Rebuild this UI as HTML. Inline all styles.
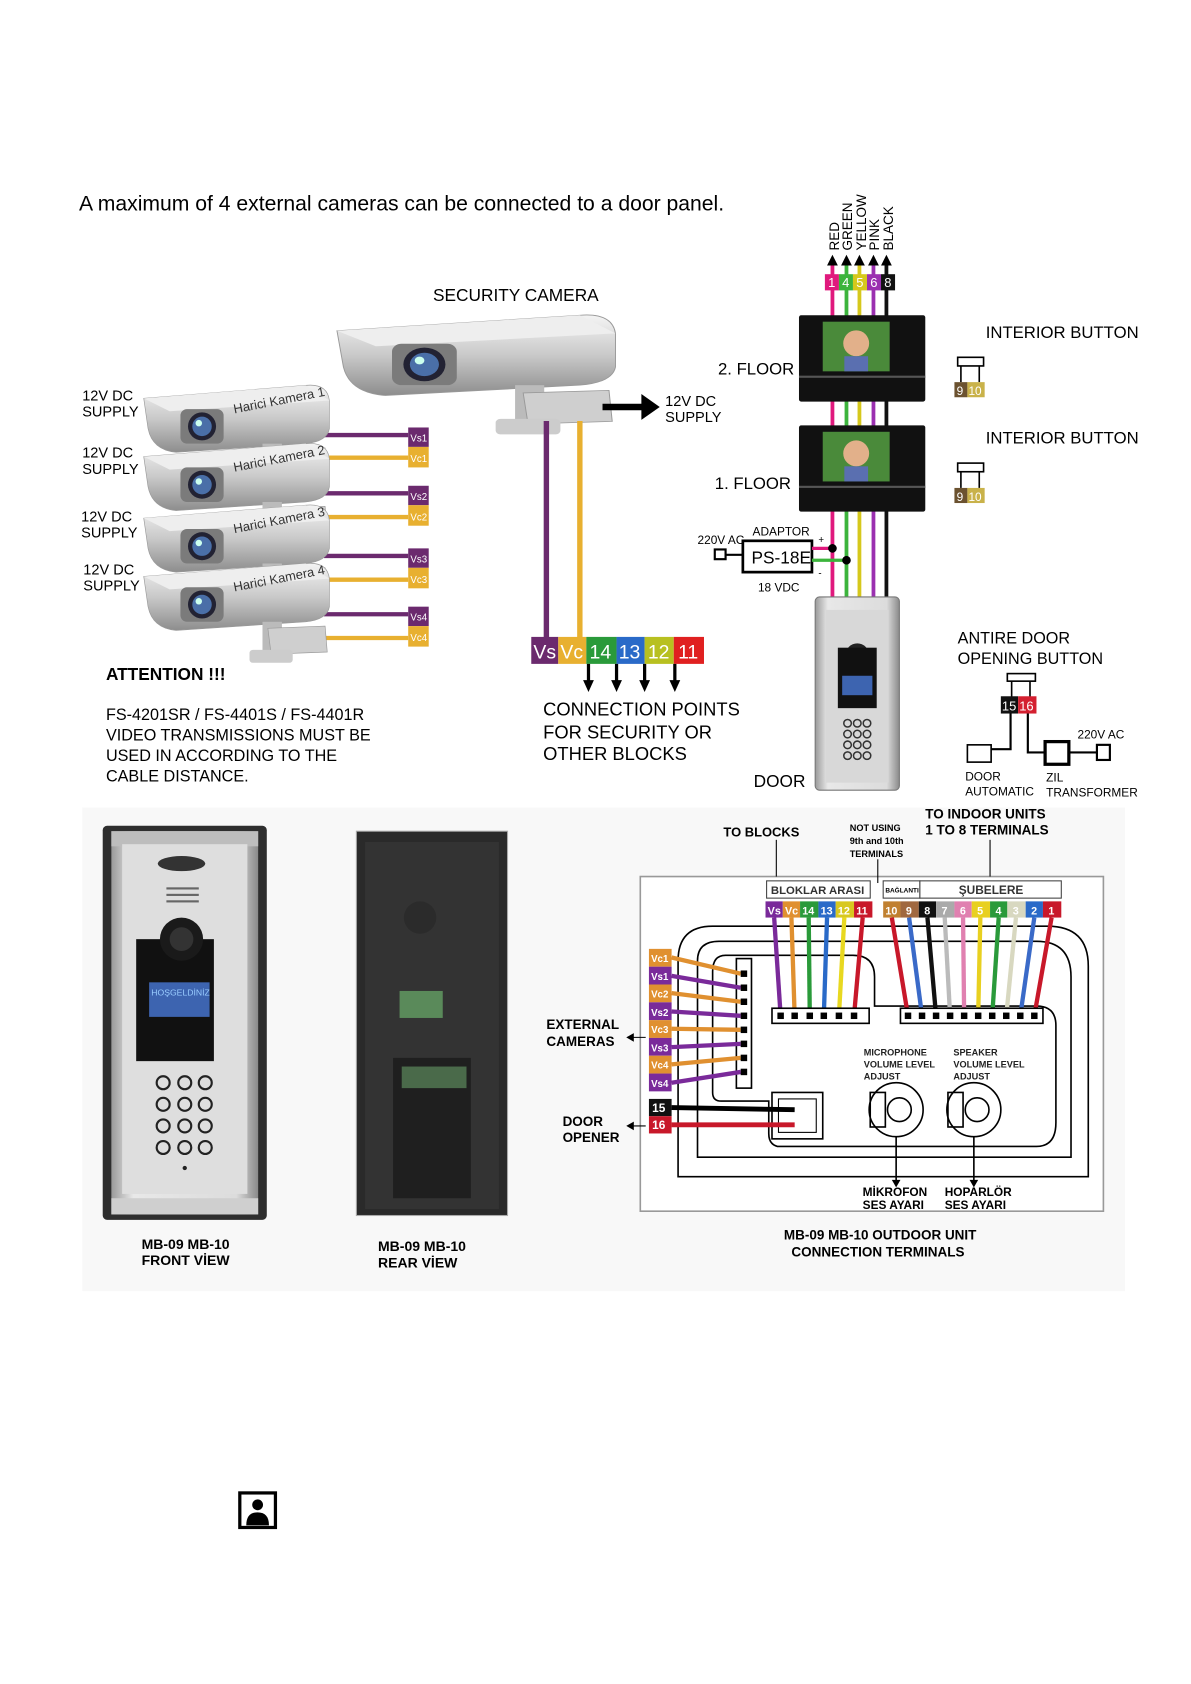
<!DOCTYPE html>
<html><head><meta charset="utf-8"><style>
html,body{margin:0;padding:0;background:#fff}
svg{display:block}
text{font-family:"Liberation Sans",sans-serif}
</style></head><body>
<svg width="1191" height="1684" viewBox="0 0 1103 1560" xmlns="http://www.w3.org/2000/svg">
<defs>
<linearGradient id="gr" x1="0" y1="0" x2="0" y2="1"><stop offset="0" stop-color="#f4f4f4"/><stop offset="0.5" stop-color="#c9c9c9"/><stop offset="1" stop-color="#8d8d8d"/></linearGradient>
<linearGradient id="al" x1="0" y1="0" x2="1" y2="0"><stop offset="0" stop-color="#9a9a9a"/><stop offset="0.15" stop-color="#e8e8e8"/><stop offset="0.85" stop-color="#dcdcdc"/><stop offset="1" stop-color="#8a8a8a"/></linearGradient>
<g id="cam">
<path d="M0,12 L150,0 Q170,-2 172,14 L172,40 Q170,52 150,54 L30,62 Q8,60 4,40 Z" fill="url(#gr)" stroke="#999" stroke-width="0.6"/>
<path d="M0,12 L150,0 L172,14 L24,24 Z" fill="#eee"/>
<rect x="34" y="22" width="40" height="32" rx="6" fill="#7b7b7b"/>
<circle cx="54" cy="38" r="13" fill="#223" /><circle cx="54" cy="38" r="9" fill="#4a6fa8"/><circle cx="51" cy="35" r="3" fill="#cfe"/>
<rect x="110" y="54" width="18" height="30" fill="#bbb"/>
<path d="M115,60 L168,58 L170,82 L118,84 Z" fill="#cfcfcf" stroke="#999" stroke-width="0.6"/>
<rect x="98" y="80" width="40" height="12" rx="3" fill="#ccc"/>
</g>
</defs>

<text x="73" y="195" font-size="19.6">A maximum of 4 external cameras can be connected to a door panel.</text>

<g font-size="12.5" fill="#000">
<text transform="translate(777,232) rotate(-90)">RED</text>
<text transform="translate(789,232) rotate(-90)">GREEN</text>
<text transform="translate(802,232) rotate(-90)">YELLOW</text>
<text transform="translate(814,232) rotate(-90)">PINK</text>
<text transform="translate(827,232) rotate(-90)">BLACK</text>
</g>
<g stroke-width="3.5">
<line x1="771" y1="244" x2="771" y2="555" stroke="#e0197d"/>
<line x1="784" y1="244" x2="784" y2="555" stroke="#3cb43c"/>
<line x1="796" y1="244" x2="796" y2="555" stroke="#d6c81c"/>
<line x1="809" y1="244" x2="809" y2="555" stroke="#9b30b0"/>
<line x1="821" y1="244" x2="821" y2="555" stroke="#111"/>
</g>
<g fill="#000">
<path d="M766,246 L771,236 L776,246Z"/><path d="M779,246 L784,236 L789,246Z"/><path d="M791,246 L796,236 L801,246Z"/><path d="M804,246 L809,236 L814,246Z"/><path d="M816,246 L821,236 L826,246Z"/>
</g>
<g font-size="12" fill="#fff">
<rect x="764" y="254" width="13" height="15" fill="#e0197d"/><text x="767" y="266">1</text>
<rect x="777" y="254" width="13" height="15" fill="#3cb43c"/><text x="780" y="266">4</text>
<rect x="790" y="254" width="13" height="15" fill="#d6c81c"/><text x="793" y="266">5</text>
<rect x="803" y="254" width="13" height="15" fill="#9b30b0"/><text x="806" y="266">6</text>
<rect x="816" y="254" width="13" height="15" fill="#111"/><text x="819" y="266">8</text>
</g>

<g>
<rect x="740" y="292" width="117" height="80" fill="#111" rx="2"/>
<rect x="762" y="298" width="62" height="46" fill="#4a8a3a"/><circle cx="793" cy="318" r="12" fill="#e2b08a"/><rect x="782" y="330" width="22" height="14" fill="#5a6fb0"/>
<rect x="740" y="348" width="117" height="2" fill="#555"/>
<rect x="740" y="394" width="117" height="80" fill="#111" rx="2"/>
<rect x="762" y="400" width="62" height="46" fill="#4a8a3a"/><circle cx="793" cy="420" r="12" fill="#e2b08a"/><rect x="782" y="432" width="22" height="14" fill="#5a6fb0"/>
<rect x="740" y="450" width="117" height="2" fill="#555"/>
</g>
<text x="665" y="347" font-size="15.5">2. FLOOR</text>
<text x="662" y="453" font-size="15.5">1. FLOOR</text>
<text x="913" y="313" font-size="15.5">INTERIOR BUTTON</text>
<text x="913" y="411" font-size="15.5">INTERIOR BUTTON</text>
<g>
<rect x="887" y="331" width="24" height="8" fill="#fff" stroke="#000" stroke-width="1.5"/><line x1="890" y1="339" x2="890" y2="354" stroke="#000" stroke-width="1.5"/><line x1="907" y1="339" x2="907" y2="354" stroke="#000" stroke-width="1.5"/>
<rect x="884" y="354" width="12" height="14" fill="#6b5230"/><rect x="896" y="354" width="16" height="14" fill="#c9b24a"/>
<text x="886" y="366" font-size="11" fill="#fff">9</text><text x="897" y="366" font-size="11" fill="#fff">10</text>
<rect x="887" y="429" width="24" height="8" fill="#fff" stroke="#000" stroke-width="1.5"/><line x1="890" y1="437" x2="890" y2="452" stroke="#000" stroke-width="1.5"/><line x1="907" y1="437" x2="907" y2="452" stroke="#000" stroke-width="1.5"/>
<rect x="884" y="452" width="12" height="14" fill="#6b5230"/><rect x="896" y="452" width="16" height="14" fill="#c9b24a"/>
<text x="886" y="464" font-size="11" fill="#fff">9</text><text x="897" y="464" font-size="11" fill="#fff">10</text>
</g>

<text x="646" y="504" font-size="11">220V AC</text>
<text x="697" y="496" font-size="11">ADAPTOR</text>
<rect x="688" y="501" width="64" height="29" fill="#fff" stroke="#000" stroke-width="2.5"/>
<text x="696" y="522" font-size="16">PS-18E</text>
<text x="702" y="548" font-size="11">18 VDC</text>
<rect x="662" y="509" width="10" height="9" fill="none" stroke="#000" stroke-width="2"/><line x1="672" y1="514" x2="688" y2="514" stroke="#000" stroke-width="2"/>
<line x1="752" y1="508" x2="771" y2="508" stroke="#e0197d" stroke-width="3"/><line x1="752" y1="519" x2="784" y2="519" stroke="#3cb43c" stroke-width="3"/>
<circle cx="771" cy="508" r="4" fill="#000"/><circle cx="784" cy="519" r="4" fill="#000"/>
<text x="758" y="503" font-size="9">+</text><text x="758" y="534" font-size="9">-</text>

<rect x="755" y="553" width="78" height="179" rx="4" fill="url(#al)" stroke="#777"/>
<rect x="765" y="565" width="58" height="160" fill="#d8d8d8"/>
<circle cx="794" cy="607" r="11" fill="#222"/>
<rect x="776" y="600" width="36" height="56" fill="#111"/>
<rect x="780" y="626" width="28" height="18" fill="#3d64b0"/>
<g fill="none" stroke="#333" stroke-width="1.4">
<circle cx="785" cy="670" r="3.5"/><circle cx="794" cy="670" r="3.5"/><circle cx="803" cy="670" r="3.5"/>
<circle cx="785" cy="680" r="3.5"/><circle cx="794" cy="680" r="3.5"/><circle cx="803" cy="680" r="3.5"/>
<circle cx="785" cy="690" r="3.5"/><circle cx="794" cy="690" r="3.5"/><circle cx="803" cy="690" r="3.5"/>
<circle cx="785" cy="700" r="3.5"/><circle cx="794" cy="700" r="3.5"/><circle cx="803" cy="700" r="3.5"/>
</g>
<text x="698" y="729" font-size="16">DOOR</text>

<text x="887" y="596" font-size="15">ANTIRE DOOR</text>
<text x="887" y="615" font-size="15">OPENING BUTTON</text>
<rect x="933" y="624" width="26" height="7" fill="#fff" stroke="#000" stroke-width="1.5"/>
<line x1="937" y1="631" x2="937" y2="646" stroke="#000" stroke-width="1.5"/><line x1="954" y1="631" x2="954" y2="646" stroke="#000" stroke-width="1.5"/>
<rect x="927" y="645" width="16" height="16" fill="#111"/><rect x="943" y="645" width="17" height="16" fill="#d42030"/>
<text x="928" y="658" font-size="12" fill="#fff">15</text><text x="944" y="658" font-size="12" fill="#fff">16</text>
<path d="M936,661 L936,694 L918,694" fill="none" stroke="#000" stroke-width="2"/>
<path d="M952,661 L952,697 L967,697" fill="none" stroke="#000" stroke-width="2"/>
<rect x="896" y="690" width="22" height="16" fill="#fff" stroke="#000" stroke-width="1.5"/>
<rect x="968" y="687" width="22" height="21" fill="#fff" stroke="#000" stroke-width="3"/>
<line x1="990" y1="697" x2="1016" y2="697" stroke="#000" stroke-width="2"/>
<rect x="1016" y="690" width="12" height="14" fill="none" stroke="#000" stroke-width="2"/>
<text x="998" y="684" font-size="11">220V AC</text>
<text x="894" y="723" font-size="11">DOOR</text><text x="894" y="737" font-size="11">AUTOMATIC</text>
<text x="969" y="724" font-size="11">ZIL</text><text x="969" y="738" font-size="11">TRANSFORMER</text>

<text x="401" y="279" font-size="16">SECURITY CAMERA</text>
<use href="#cam" transform="translate(312,292) scale(1.5,1.2)"/>
<line x1="506" y1="390" x2="506" y2="592" stroke="#6b2a6e" stroke-width="5"/>
<line x1="537" y1="390" x2="537" y2="592" stroke="#e8b030" stroke-width="5"/>
<line x1="558" y1="377" x2="596" y2="377" stroke="#000" stroke-width="6"/><path d="M594,365 L611,377 L594,389Z" fill="#000"/>
<text x="616" y="376" font-size="13.5">12V DC</text><text x="616" y="391" font-size="13.5">SUPPLY</text>

<g stroke-width="4">
<line x1="300" y1="403" x2="378" y2="403" stroke="#6b2a6e"/><line x1="300" y1="424" x2="378" y2="424" stroke="#e8b030"/>
<line x1="300" y1="457" x2="378" y2="457" stroke="#6b2a6e"/><line x1="300" y1="479" x2="378" y2="479" stroke="#e8b030"/>
<line x1="300" y1="515" x2="378" y2="515" stroke="#6b2a6e"/><line x1="300" y1="537" x2="378" y2="537" stroke="#e8b030"/>
<line x1="300" y1="569" x2="378" y2="569" stroke="#6b2a6e"/><line x1="300" y1="591" x2="378" y2="591" stroke="#e8b030"/>
</g>
<use href="#cam" transform="translate(133,357)"/>
<use href="#cam" transform="translate(133,411)"/>
<use href="#cam" transform="translate(133,468)"/>
<use href="#cam" transform="translate(133,522)"/>
<g font-size="12" fill="#333">
<text transform="translate(217,383) rotate(-11)">Harici Kamera 1</text>
<text transform="translate(217,437) rotate(-11)">Harici Kamera 2</text>
<text transform="translate(217,494) rotate(-11)">Harici Kamera 3</text>
<text transform="translate(217,548) rotate(-11)">Harici Kamera 4</text>
</g>
<g font-size="13.5">
<text x="76" y="371">12V DC</text><text x="76" y="386">SUPPLY</text>
<text x="76" y="424">12V DC</text><text x="76" y="439">SUPPLY</text>
<text x="75" y="483">12V DC</text><text x="75" y="498">SUPPLY</text>
<text x="77" y="532">12V DC</text><text x="77" y="547">SUPPLY</text>
</g>
<g font-size="9" fill="#fff">
<rect x="378" y="396" width="19" height="18" fill="#6b2a6e"/><text x="380" y="409">Vs1</text>
<rect x="378" y="414" width="19" height="19" fill="#e8b030"/><text x="380" y="428">Vc1</text>
<rect x="378" y="450" width="19" height="18" fill="#6b2a6e"/><text x="380" y="463">Vs2</text>
<rect x="378" y="468" width="19" height="19" fill="#e8b030"/><text x="380" y="482">Vc2</text>
<rect x="378" y="508" width="19" height="18" fill="#6b2a6e"/><text x="380" y="521">Vs3</text>
<rect x="378" y="526" width="19" height="19" fill="#e8b030"/><text x="380" y="540">Vc3</text>
<rect x="378" y="562" width="19" height="18" fill="#6b2a6e"/><text x="380" y="575">Vs4</text>
<rect x="378" y="580" width="19" height="19" fill="#e8b030"/><text x="380" y="594">Vc4</text>
</g>

<g font-size="18" fill="#fff">
<rect x="492" y="590" width="25" height="25" fill="#6b2a6e"/><text x="494" y="610">Vs</text>
<rect x="517" y="590" width="26" height="25" fill="#e8b030"/><text x="519" y="610">Vc</text>
<rect x="543" y="590" width="28" height="25" fill="#2a9a3a"/><text x="546" y="610">14</text>
<rect x="571" y="590" width="26" height="25" fill="#2a6ac8"/><text x="573" y="610">13</text>
<rect x="597" y="590" width="27" height="25" fill="#b8c020"/><text x="600" y="610">12</text>
<rect x="624" y="590" width="28" height="25" fill="#e02020"/><text x="628" y="610">11</text>
</g>
<g stroke="#000" stroke-width="3"><line x1="545" y1="615" x2="545" y2="632"/><line x1="571" y1="615" x2="571" y2="632"/><line x1="597" y1="615" x2="597" y2="632"/><line x1="625" y1="615" x2="625" y2="632"/></g>
<g fill="#000"><path d="M540,630 L545,641 L550,630Z"/><path d="M566,630 L571,641 L576,630Z"/><path d="M592,630 L597,641 L602,630Z"/><path d="M620,630 L625,641 L630,630Z"/></g>
<g font-size="17"><text x="503" y="663">CONNECTION POINTS</text><text x="503" y="684">FOR SECURITY OR</text><text x="503" y="704">OTHER BLOCKS</text></g>
<text x="98" y="630" font-size="16" font-weight="bold">ATTENTION !!!</text>
<g font-size="15"><text x="98" y="667">FS-4201SR / FS-4401S / FS-4401R</text><text x="98" y="686">VIDEO TRANSMISSIONS MUST BE</text><text x="98" y="705">USED IN ACCORDING TO THE</text><text x="98" y="724">CABLE DISTANCE.</text></g>

<rect x="76" y="748" width="966" height="448" fill="#f8f8f8"/>
<rect x="95" y="765" width="152" height="365" rx="4" fill="#2e2e2e"/>
<rect x="103" y="770" width="136" height="355" fill="url(#al)"/>
<rect x="103" y="770" width="136" height="14" fill="#bdbdbd"/>
<rect x="103" y="1110" width="136" height="15" fill="#cfcfcf"/>
<rect x="113" y="782" width="116" height="324" fill="#dedede"/>
<ellipse cx="168" cy="800" rx="22" ry="7" fill="#333"/>
<g fill="#666"><rect x="154" y="822" width="30" height="2"/><rect x="154" y="828" width="30" height="2"/><rect x="154" y="834" width="30" height="2"/></g>
<rect x="126" y="870" width="72" height="113" fill="#111"/>
<circle cx="168" cy="870" r="20" fill="#1a1a1a"/><circle cx="168" cy="870" r="11" fill="#333"/>
<rect x="138" y="910" width="56" height="32" fill="#3d64b0"/>
<text x="140" y="922" font-size="8" fill="#9cf">HOŞGELDİNİZ</text>
<g fill="none" stroke="#222" stroke-width="2">
<circle cx="151" cy="1003" r="6"/><circle cx="171" cy="1003" r="6"/><circle cx="190" cy="1003" r="6"/>
<circle cx="151" cy="1023" r="6"/><circle cx="171" cy="1023" r="6"/><circle cx="190" cy="1023" r="6"/>
<circle cx="151" cy="1043" r="6"/><circle cx="171" cy="1043" r="6"/><circle cx="190" cy="1043" r="6"/>
<circle cx="151" cy="1063" r="6"/><circle cx="171" cy="1063" r="6"/><circle cx="190" cy="1063" r="6"/>
</g>
<circle cx="171" cy="1082" r="2" fill="#222"/>
<rect x="330" y="770" width="140" height="356" fill="#2a2a2a" stroke="#aaa"/>
<rect x="338" y="780" width="124" height="340" fill="#333"/>
<circle cx="389" cy="850" r="15" fill="#2b2b2b"/>
<rect x="370" y="918" width="40" height="25" fill="#5a8a5a"/>
<rect x="364" y="980" width="72" height="130" fill="#1f1f1f"/>
<rect x="372" y="988" width="60" height="20" fill="#4a6a4a"/>
<g font-size="13" font-weight="bold">
<text x="131" y="1157">MB-09 MB-10</text><text x="131" y="1172">FRONT VİEW</text>
<text x="350" y="1159">MB-09 MB-10</text><text x="350" y="1174">REAR VİEW</text>
</g>

<rect x="593" y="812" width="429" height="310" fill="#fff" stroke="#999" stroke-width="1.5"/>
<g fill="none" stroke="#000" stroke-width="1.5">
<path d="M628,1090 L628,890 Q628,858 660,858 L970,858 Q1008,858 1008,895 L1008,1090 Z"/>
<path d="M646,1072 L646,890 Q646,872 666,872 L960,872 Q992,872 992,905 L992,1072 Z"/>
<path d="M660,1012 Q660,1020 668,1020 L712,1020 L712,1050 Q712,1060 720,1062 L960,1062 Q978,1062 978,1040 L978,950 Q978,932 960,932 L810,932 L810,905 Q810,885 790,885 L672,885 Q660,885 660,900 Z"/>
</g>
<line x1="719" y1="778" x2="719" y2="812" stroke="#000"/><line x1="813" y1="796" x2="813" y2="818" stroke="#000"/><line x1="917" y1="778" x2="917" y2="812" stroke="#000"/>
<g font-weight="bold">
<text x="670" y="775" font-size="12">TO BLOCKS</text>
<text x="787" y="770" font-size="8.5">NOT USING</text><text x="787" y="782" font-size="8.5">9th and 10th</text><text x="787" y="794" font-size="8.5">TERMINALS</text>
<text x="857" y="758" font-size="12.5">TO INDOOR UNITS</text><text x="857" y="773" font-size="12.5">1 TO 8 TERMINALS</text>
</g>
<rect x="710" y="816" width="96" height="16" fill="#fff" stroke="#444"/><text x="714" y="828" font-size="10.5" font-weight="bold" fill="#333">BLOKLAR ARASI</text>
<rect x="818" y="816" width="34" height="16" fill="#fff" stroke="#444"/><text x="820" y="827" font-size="6" font-weight="bold">BAĞLANTI</text>
<rect x="852" y="816" width="131" height="16" fill="#fff" stroke="#444"/><text x="888" y="828" font-size="11" font-weight="bold" fill="#333">ŞUBELERE</text>
<g font-size="10" font-weight="bold" fill="#fff">
<rect x="709" y="835" width="16" height="15" fill="#7a2a9a"/><text x="711" y="847">Vs</text>
<rect x="725" y="835" width="16" height="15" fill="#e09030"/><text x="727" y="847">Vc</text>
<rect x="741" y="835" width="17" height="15" fill="#2a9a3a"/><text x="743" y="847">14</text>
<rect x="758" y="835" width="16" height="15" fill="#2a6ac8"/><text x="760" y="847">13</text>
<rect x="774" y="835" width="17" height="15" fill="#d8c820"/><text x="776" y="847">12</text>
<rect x="791" y="835" width="17" height="15" fill="#c8182a"/><text x="793" y="847">11</text>
<rect x="818" y="835" width="16" height="15" fill="#c08030"/><text x="820" y="847">10</text>
<rect x="834" y="835" width="17" height="15" fill="#a06840"/><text x="839" y="847">9</text>
<rect x="851" y="835" width="16" height="15" fill="#111"/><text x="856" y="847">8</text>
<rect x="867" y="835" width="17" height="15" fill="#aaa"/><text x="872" y="847">7</text>
<rect x="884" y="835" width="16" height="15" fill="#e080b0"/><text x="889" y="847">6</text>
<rect x="900" y="835" width="17" height="15" fill="#e8d020"/><text x="905" y="847">5</text>
<rect x="917" y="835" width="16" height="15" fill="#2a9a3a"/><text x="922" y="847">4</text>
<rect x="933" y="835" width="17" height="15" fill="#d8d8c0"/><text x="938" y="847">3</text>
<rect x="950" y="835" width="16" height="15" fill="#2a6ac8"/><text x="955" y="847">2</text>
<rect x="966" y="835" width="17" height="15" fill="#c8182a"/><text x="971" y="847">1</text>
</g>
<g stroke-width="4">
<line x1="717" y1="850" x2="723" y2="941" stroke="#7a2a9a"/><line x1="733" y1="850" x2="736" y2="941" stroke="#e09030"/>
<line x1="749" y1="850" x2="750" y2="941" stroke="#2a9a3a"/><line x1="766" y1="850" x2="763" y2="941" stroke="#2a6ac8"/>
<line x1="782" y1="850" x2="777" y2="941" stroke="#e8d820"/><line x1="799" y1="850" x2="791" y2="941" stroke="#c8182a"/>
<line x1="826" y1="850" x2="841" y2="941" stroke="#c8182a"/><line x1="842" y1="850" x2="854" y2="941" stroke="#3a6ac8"/>
<line x1="859" y1="850" x2="867" y2="941" stroke="#111"/><line x1="875" y1="850" x2="880" y2="941" stroke="#bbb"/>
<line x1="892" y1="850" x2="893" y2="941" stroke="#e080b0"/><line x1="908" y1="850" x2="906" y2="941" stroke="#e8d020"/>
<line x1="925" y1="850" x2="919" y2="941" stroke="#2a9a3a"/><line x1="941" y1="850" x2="932" y2="941" stroke="#d8d8c0"/>
<line x1="958" y1="850" x2="945" y2="941" stroke="#3a6ac8"/><line x1="974" y1="850" x2="958" y2="941" stroke="#c8182a"/>
</g>
<rect x="715" y="934" width="90" height="14" fill="#fff" stroke="#000" stroke-width="1.5"/>
<rect x="834" y="934" width="132" height="14" fill="#fff" stroke="#000" stroke-width="1.5"/>
<g fill="#000">
<rect x="720" y="938" width="6" height="6"/><rect x="733" y="938" width="6" height="6"/><rect x="747" y="938" width="6" height="6"/><rect x="760" y="938" width="6" height="6"/><rect x="774" y="938" width="6" height="6"/><rect x="788" y="938" width="6" height="6"/>
<rect x="838" y="938" width="6" height="6"/><rect x="851" y="938" width="6" height="6"/><rect x="864" y="938" width="6" height="6"/><rect x="877" y="938" width="6" height="6"/><rect x="890" y="938" width="6" height="6"/><rect x="903" y="938" width="6" height="6"/><rect x="916" y="938" width="6" height="6"/><rect x="929" y="938" width="6" height="6"/><rect x="942" y="938" width="6" height="6"/><rect x="955" y="938" width="6" height="6"/>
</g>
<rect x="682" y="888" width="14" height="120" fill="#fff" stroke="#000" stroke-width="1.5"/>
<g stroke-width="4">
<line x1="622" y1="887" x2="686" y2="902" stroke="#e09030"/><line x1="622" y1="904" x2="686" y2="915" stroke="#7a2a9a"/>
<line x1="622" y1="920" x2="686" y2="928" stroke="#e09030"/><line x1="622" y1="937" x2="686" y2="941" stroke="#7a2a9a"/>
<line x1="622" y1="953" x2="686" y2="954" stroke="#e09030"/><line x1="622" y1="970" x2="686" y2="967" stroke="#7a2a9a"/>
<line x1="622" y1="986" x2="686" y2="980" stroke="#e09030"/><line x1="622" y1="1003" x2="686" y2="993" stroke="#7a2a9a"/>
</g>
<g fill="#000"><rect x="686" y="899" width="6" height="6"/><rect x="686" y="912" width="6" height="6"/><rect x="686" y="925" width="6" height="6"/><rect x="686" y="938" width="6" height="6"/><rect x="686" y="951" width="6" height="6"/><rect x="686" y="964" width="6" height="6"/><rect x="686" y="977" width="6" height="6"/><rect x="686" y="990" width="6" height="6"/></g>
<g font-size="9" font-weight="bold" fill="#fff">
<rect x="601" y="879" width="21" height="16.5" fill="#e09030"/><text x="603" y="891">Vc1</text>
<rect x="601" y="895.5" width="21" height="16.5" fill="#7a2a9a"/><text x="603" y="908">Vs1</text>
<rect x="601" y="912" width="21" height="16.5" fill="#e09030"/><text x="603" y="924">Vc2</text>
<rect x="601" y="928.5" width="21" height="16.5" fill="#7a2a9a"/><text x="603" y="941">Vs2</text>
<rect x="601" y="945" width="21" height="16.5" fill="#e09030"/><text x="603" y="957">Vc3</text>
<rect x="601" y="961.5" width="21" height="16.5" fill="#7a2a9a"/><text x="603" y="974">Vs3</text>
<rect x="601" y="978" width="21" height="16.5" fill="#e09030"/><text x="603" y="990">Vc4</text>
<rect x="601" y="994.5" width="21" height="16.5" fill="#7a2a9a"/><text x="603" y="1007">Vs4</text>
</g>
<rect x="715" y="1012" width="47" height="43" fill="#fff" stroke="#000" stroke-width="1.5"/><rect x="721" y="1018" width="35" height="31" fill="none" stroke="#000"/>
<line x1="622" y1="1026" x2="736" y2="1028" stroke="#000" stroke-width="4.5"/>
<line x1="622" y1="1042" x2="736" y2="1042" stroke="#c8182a" stroke-width="4.5"/>
<rect x="601" y="1018" width="21" height="16" fill="#111"/><rect x="601" y="1034" width="21" height="16" fill="#c8182a"/>
<text x="604" y="1030" font-size="11" font-weight="bold" fill="#fff">15</text><text x="604" y="1046" font-size="11" font-weight="bold" fill="#fff">16</text>
<g font-weight="bold" font-size="12.5">
<text x="506" y="953">EXTERNAL</text><text x="506" y="969">CAMERAS</text>
<text x="521" y="1043">DOOR</text><text x="521" y="1058">OPENER</text>
</g>
<line x1="582" y1="961" x2="598" y2="961" stroke="#000"/><path d="M580,961 L587,957 L587,965Z"/>
<line x1="582" y1="1043" x2="598" y2="1043" stroke="#000"/><path d="M580,1043 L587,1039 L587,1047Z"/>
<g fill="none" stroke="#000" stroke-width="1.5">
<circle cx="830" cy="1028" r="25"/><rect x="806" y="1012" width="14" height="32"/><circle cx="833" cy="1028" r="11"/>
<circle cx="902" cy="1028" r="25"/><rect x="878" y="1012" width="14" height="32"/><circle cx="905" cy="1028" r="11"/>
<line x1="830" y1="1053" x2="830" y2="1096"/><line x1="902" y1="1053" x2="902" y2="1096"/>
</g>
<path d="M826,1093 L830,1100 L834,1093Z"/><path d="M898,1093 L902,1100 L906,1093Z"/>
<g font-size="8.5" font-weight="bold" fill="#222">
<text x="800" y="978">MICROPHONE</text><text x="800" y="989">VOLUME LEVEL</text><text x="800" y="1000">ADJUST</text>
<text x="883" y="978">SPEAKER</text><text x="883" y="989">VOLUME LEVEL</text><text x="883" y="1000">ADJUST</text>
</g>
<g font-size="11" font-weight="bold">
<text x="799" y="1108">MİKROFON</text><text x="799" y="1120">SES AYARI</text>
<text x="875" y="1108">HOPARLÖR</text><text x="875" y="1120">SES AYARI</text>
<text x="726" y="1148" font-size="12.5">MB-09 MB-10 OUTDOOR UNIT</text><text x="733" y="1164" font-size="12.5">CONNECTION TERMINALS</text>
</g>

<rect x="222" y="1383" width="33" height="32" fill="#fff" stroke="#000" stroke-width="3"/>
<circle cx="238.5" cy="1394" r="5" fill="#000"/><path d="M228,1413 Q228,1401 238.5,1401 Q249,1401 249,1413Z" fill="#000"/>
</svg>
</body></html>
